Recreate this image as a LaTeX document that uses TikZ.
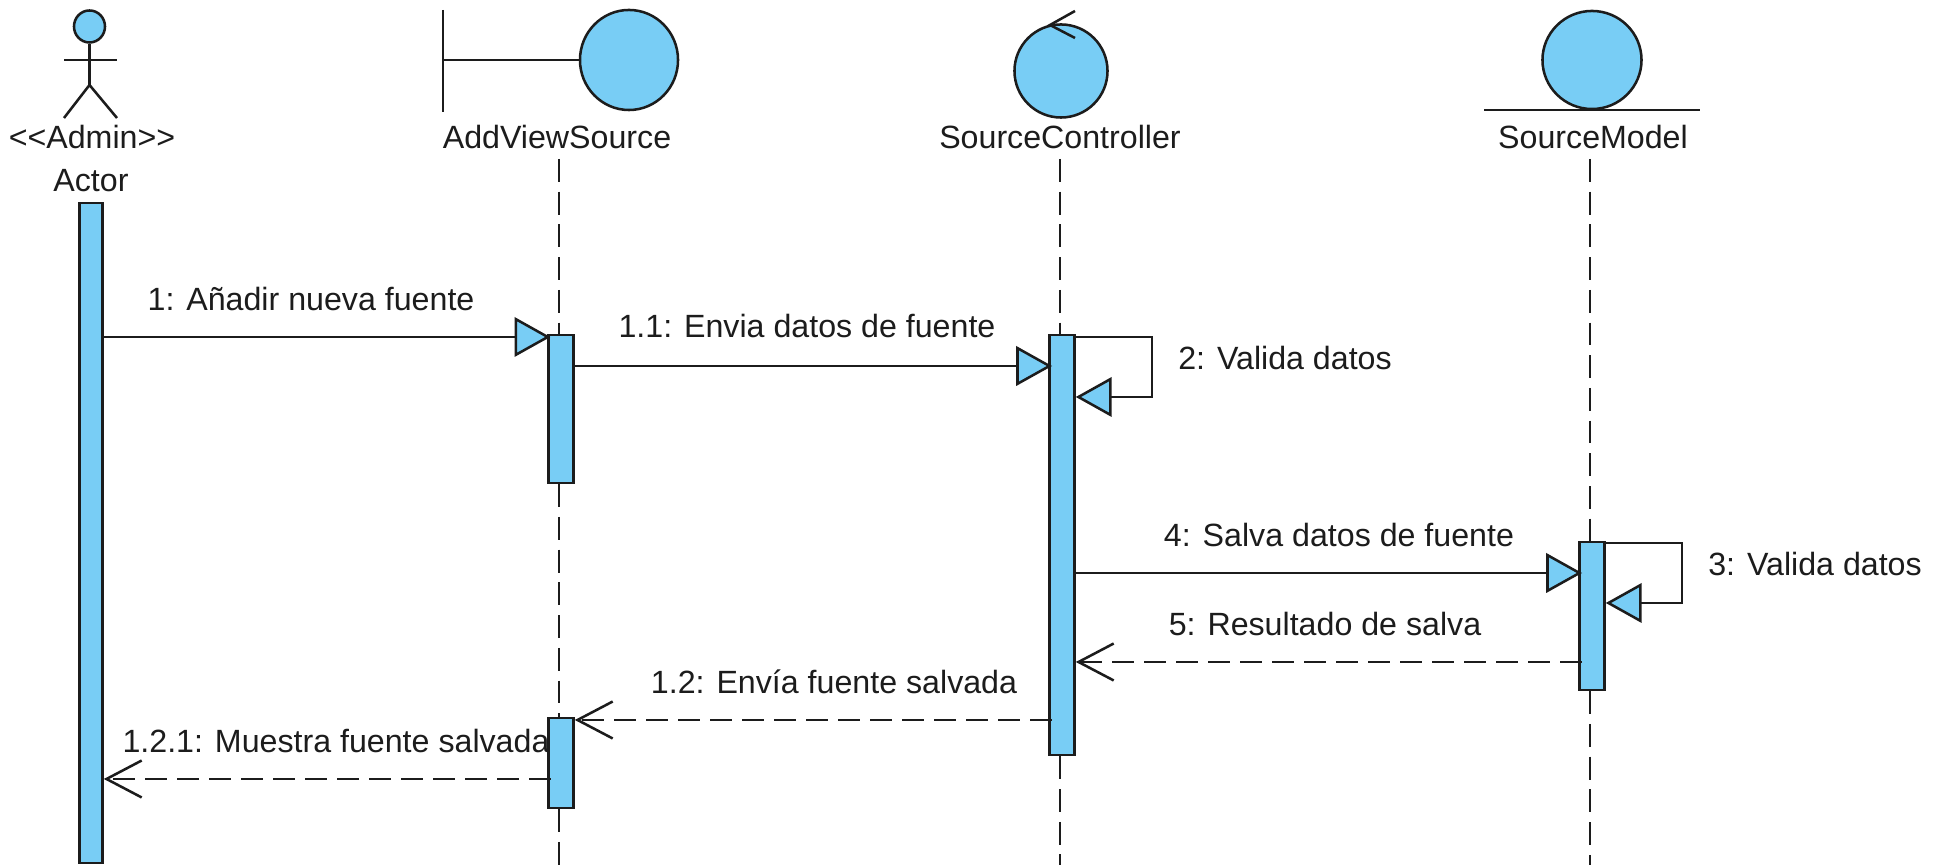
\documentclass[tikz,border=0pt]{standalone}
\usepackage{fontspec}
\setmainfont{Liberation Sans}
\usepackage{xcolor}
\usepackage{tikz}
\usetikzlibrary{arrows.meta,shapes.geometric,positioning}
\definecolor{umlblue}{HTML}{78CDF5}
\definecolor{umlink}{HTML}{1C1C1C}

\begin{document}
\begin{tikzpicture}[x=0.01cm,y=-0.01cm,line width=0.72pt,draw=umlink,
    lbl/.style={inner sep=0pt,text=umlink,font=\fontsize{9.15}{11}\selectfont},
    orb/.style={draw,ellipse,fill=umlblue,inner sep=0pt},
    bar/.style={draw,fill=umlblue,inner sep=0pt,minimum width=0.25cm},
    call/.style={-{Triangle[fill=umlblue,length=10.2pt,width=11.2pt]}},
    reply/.style={-{Straight Barb[length=10pt,width=10.5pt]},dash pattern=on 6.3pt off 2.8pt},
    lifeline/.style={dash pattern=on 6.5pt off 2.8pt}]
    \useasboundingbox (0,0) rectangle (1941,865);
    % Heads of the four columns
    \node[orb,minimum width=0.31cm,minimum height=0.32cm] (head) at (89.5,26.5) {};
    \coordinate (hip) at (89.5,85);
    \coordinate (armL) at (64,60);
    \coordinate (armR) at (117,60);
    \coordinate (legL) at (64,118);
    \coordinate (legR) at (117,118);
    \draw (head.south) -- (hip);
    \draw (armL) -- (armR);
    \draw (legL) -- (hip) -- (legR);
    \node[lbl] (stereo) at (92,137) {<{}<Admin>{}>};
    \node[lbl] (actor) at (91,181) {Actor};

    \node[orb,minimum width=0.98cm,minimum height=1.0cm] (viewOrb) at (629,60) {};
    \coordinate (wallT) at (443,10);
    \coordinate (wallB) at (443,112);
    \coordinate (wallM) at (443,60);
    \draw (wallT) -- (wallB);
    \draw (wallM) -- (viewOrb.west);
    \node[lbl] (view) at (557,137) {AddViewSource};

    \node[orb,minimum width=0.93cm,minimum height=0.93cm] (ctrlOrb) at (1061,71) {};
    \coordinate (tipC) at (1050,25);
    \coordinate (tipU) at (1075,11);
    \coordinate (tipD) at (1075,38);
    \draw (tipU) -- (tipC) -- (tipD);
    \node[lbl] (ctrl) at (1060,137) {SourceController};

    \node[orb,minimum width=0.99cm,minimum height=0.98cm] (modelOrb) at (1592,60) {};
    \coordinate (floorL) at (1484,110);
    \coordinate (floorR) at (1700,110);
    \draw (floorL) -- (floorR);
    \node[lbl] (model) at (1593,137) {SourceModel};

    % Activation bars
    \node[bar,minimum width=0.23cm,minimum height=6.6cm] (barActor) at (91,533) {};
    \node[bar,minimum height=1.48cm] (barViewA) at (561,409) {};
    \node[bar,minimum height=0.9cm] (barViewB) at (561,763) {};
    \node[bar,minimum height=4.2cm] (barCtrl) at (1062,545) {};
    \node[bar,minimum height=1.48cm] (barModel) at (1592,616) {};

    % Dashed lines under the heads
    \coordinate (lineView) at (559,159);
    \coordinate (lineCtrl) at (1060,159);
    \coordinate (lineModel) at (1590,159);
    \coordinate (bottom) at (0,865);
    \draw[lifeline] (lineView) -- (lineView |- barViewA.north);
    \draw[lifeline] (lineView |- barViewA.south) -- (lineView |- barViewB.north);
    \draw[lifeline] (lineView |- barViewB.south) -- (lineView |- bottom);
    \draw[lifeline] (lineCtrl) -- (lineCtrl |- barCtrl.north);
    \draw[lifeline] (lineCtrl |- barCtrl.south) -- (lineCtrl |- bottom);
    \draw[lifeline] (lineModel) -- (lineModel |- barModel.north);
    \draw[lifeline] (lineModel |- barModel.south) -- (lineModel |- bottom);

    % Message heights
    \coordinate (m1) at (0,337);
    \coordinate (m11) at (0,366);
    \coordinate (m2) at (0,337);
    \coordinate (m4) at (0,573);
    \coordinate (m3) at (0,543);
    \coordinate (m5) at (0,662);
    \coordinate (m12) at (0,720);
    \coordinate (m121) at (0,779);
    \coordinate (loopCtrl) at (1152,397);
    \coordinate (loopModel) at (1682,603);

    % Messages
    \draw[call] (barActor.east |- m1) -- ([xshift=0.9pt]barViewA.west |- m1);
    \draw[call] (barViewA.east |- m11) -- ([xshift=1.1pt]barCtrl.west |- m11);
    \draw[call] (barCtrl.east |- m2) -| (loopCtrl) -- (barCtrl.east |- loopCtrl);
    \draw[call] (barCtrl.east |- m4) -- ([xshift=1.1pt]barModel.west |- m4);
    \draw[call] (barModel.east |- m3) -| (loopModel) -- (barModel.east |- loopModel);
    \draw[reply] ([xshift=1pt]barModel.west |- m5) -- (barCtrl.east |- m5);
    \draw[reply] ([xshift=1pt]barCtrl.west |- m12) -- (barViewB.east |- m12);
    \draw[reply] ([xshift=1pt]barViewB.west |- m121) -- (barActor.east |- m121);

    % Message texts
    \node[lbl] (t1) at (311,299) {1: Añadir nueva fuente};
    \node[lbl] (t11) at (807,326) {1.1: Envia datos de fuente};
    \node[lbl] (t2) at (1285,358) {2: Valida datos};
    \node[lbl] (t4) at (1339,535) {4: Salva datos de fuente};
    \node[lbl] (t3) at (1815,564) {3: Valida datos};
    \node[lbl] (t5) at (1325,624) {5: Resultado de salva};
    \node[lbl] (t12) at (834,682) {1.2: Envía fuente salvada};
    \node[lbl] (t121) at (336,741) {1.2.1: Muestra fuente salvada};
  \end{tikzpicture}
\end{document}
